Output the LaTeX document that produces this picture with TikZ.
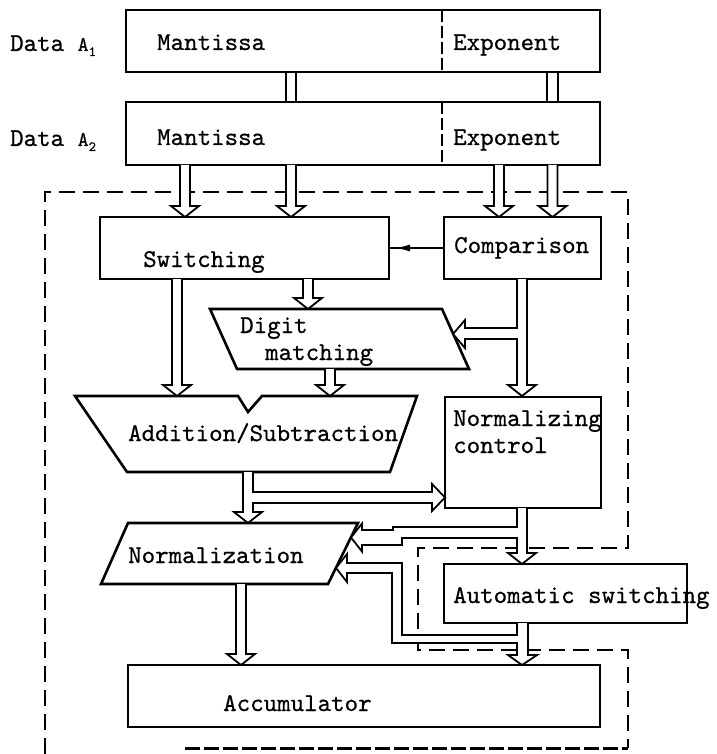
\documentclass[tikz,border=0pt]{standalone}
\usepackage{fontspec}
\newfontfamily\typewriter{lmmono10-regular}[Extension=.otf, FakeBold=0.6]
\usetikzlibrary{calc,fit,arrows.meta}

% hollow downward arrow: stem centre x, start point, tip point
\newcommand\fatdown[3]{%
  \filldraw[fat] let \p1=(#2), \p2=(#3) in
    (#1pt-5pt,\y1) -- (#1pt-5pt,\y2+11pt) -- (#1pt-14pt,\y2+11pt) -- (#1pt,\y2)
    -- (#1pt+14pt,\y2+11pt) -- (#1pt+5pt,\y2+11pt) -- (#1pt+5pt,\y1);}

\tikzset{
  blk/.style={draw, line width=2.6pt, inner sep=0pt, outer sep=0pt},
  shp/.style={draw, line width=2.6pt, line join=miter},
  fat/.style={draw, fill=white, line width=1.8pt, line join=miter},
  bound/.style={line width=2pt, dash pattern=on 16pt off 8pt},
  boundheavy/.style={line width=3pt, dash pattern=on 15pt off 4pt},
  divider/.style={line width=1.5pt, dash pattern=on 12pt off 4pt},
  lbl/.style={anchor=base west, inner sep=0pt},
}

\begin{document}
\begin{tikzpicture}[x=1pt, y=-1pt,
  font=\typewriter\fontsize{25.7pt}{28pt}\selectfont]
\useasboundingbox (0,0) rectangle (716,754);

% dashed boundary of the arithmetic unit
\draw[bound] (45,754) -- (45,192) -- (628,192) -- (628,548) -- (418,548)
  -- (418,650) -- (628,650) -- (628,748);
\draw[boundheavy] (185,748) -- (628,748);

% data registers
\node[blk, fit={(126,10) (600,72)}] (a1) {};
\node[blk, fit={(126,102) (600,165)}] (a2) {};
\draw[divider] (442,10) -- (442,72);
\draw[divider] (442,102) -- (442,165);

% processing blocks
\node[blk, fit={(100,217) (389,279)}] (sw) {};
\node[blk, fit={(444,217) (601,279)}] (cmp) {};
\node[blk, fit={(445,397) (601,508)}] (nc) {};
\node[blk, fit={(444,564) (687,623)}] (aut) {};
\node[blk, fit={(128,665) (600,727)}] (acc) {};

% digit matching parallelogram
\coordinate (dm-top) at (326,309);
\coordinate (dm-bot) at (353,369);
\draw[shp] (210,309) -- (442,309) -- (469,369) -- (237,369) -- cycle;

% adder with notch on the top edge
\coordinate (as-top) at (248,396);
\coordinate (as-bot) at (258,472);
\draw[shp] (75,396) -- (238,396) -- (248,412) -- (262,396) -- (417,396)
  -- (390,472) -- (127,472) -- cycle;

% normalization parallelogram
\coordinate (nm-top) at (243,523);
\coordinate (nm-bot) at (214,584);
\draw[shp] (128,523) -- (358,523) -- (328,584) -- (101,584) -- cycle;

% register-to-register paths
\draw[line width=1.8pt] (286,73) -- (286,102) (296,73) -- (296,102);
\draw[line width=1.8pt] (547,73) -- (547,102) (558,73) -- (558,102);

% straight transfers
\fatdown{185}{a2.south}{sw.north}
\fatdown{291}{a2.south}{sw.north}
\fatdown{499}{a2.south}{cmp.north}
\fatdown{552.5}{a2.south}{cmp.north}
\fatdown{177}{sw.south}{as-top}
\fatdown{308}{sw.south}{dm-top}
\fatdown{330}{dm-bot}{as-top}
\fatdown{241}{nm-bot}{acc.north}

% comparison result to switching
\draw[line width=1.6pt] (cmp.west) -- (sw.east |- cmp.west);
\draw[line width=1.6pt, -{Latex[length=15pt,width=7pt]}] (cmp.west) -- ++(-49,0);

% comparison -> normalizing control, branch to digit matching
\filldraw[fat] (517,279) -- (517,328) -- (465,328) -- (465,320) -- (453,334)
  -- (465,348) -- (465,339) -- (517,339) -- (517,385) -- (508,385) -- (522,396)
  -- (536,385) -- (527,385) -- (527,279);

% adder -> normalization, branch to normalizing control
\filldraw[fat] (243,472) -- (243,512) -- (234,512) -- (248,523) -- (262,512)
  -- (253,512) -- (253,503) -- (432,503) -- (432,511) -- (445,497.5) -- (432,484)
  -- (432,492) -- (253,492) -- (253,472);

% normalizing control -> automatic switching, branch to normalization
\filldraw[fat] (527,508) -- (527,553) -- (536,553) -- (522,564) -- (508,553)
  -- (517,553) -- (517,538) -- (402,538) -- (402,545) -- (362,545) -- (362,551.5)
  -- (351,537.5) -- (362,523.5) -- (362,530) -- (393,530) -- (393,527)
  -- (517,527) -- (517,508);

% automatic switching -> accumulator, branch to normalization
\filldraw[fat] (528,623) -- (528,655) -- (537,655) -- (522,665) -- (508,655)
  -- (517,655) -- (517,643) -- (392,643) -- (392,573) -- (347,573) -- (347,582)
  -- (336,568) -- (347,554) -- (347,563) -- (402,563) -- (402,635) -- (517,635)
  -- (517,623);

% labels
\node[lbl] (l-a1) at (10,51) {Data {\fontsize{21pt}{22pt}\selectfont A}\raisebox{-5pt}{\fontsize{14pt}{15pt}\selectfont 1}};
\node[lbl] (l-a2) at (10,146) {Data {\fontsize{21pt}{22pt}\selectfont A}\raisebox{-5pt}{\fontsize{14pt}{15pt}\selectfont 2}};
\node[lbl] (t-m1) at (157,50) {Mantissa};
\node[lbl] (t-e1) at (453,50) {Exponent};
\node[lbl] (t-m2) at (157,145) {Mantissa};
\node[lbl] (t-e2) at (453,145) {Exponent};
\node[lbl] (t-sw) at (143,267) {Switching};
\node[lbl] (t-cmp) at (454,253) {Comparison};
\node[lbl] (t-dm1) at (240,333) {Digit};
\node[lbl] (t-dm2) at (265,360) {matching};
\node[lbl] (t-as) at (128,441) {Addition/Subtraction};
\node[lbl] (t-nc1) at (453,426) {Normalizing};
\node[lbl] (t-nc2) at (453,453) {control};
\node[lbl] (t-nm) at (128,563) {Normalization};
\node[lbl] (t-aut) at (453,603) {Automatic switching};
\node[lbl] (t-acc) at (223,711) {Accumulator};
\end{tikzpicture}
\end{document}
